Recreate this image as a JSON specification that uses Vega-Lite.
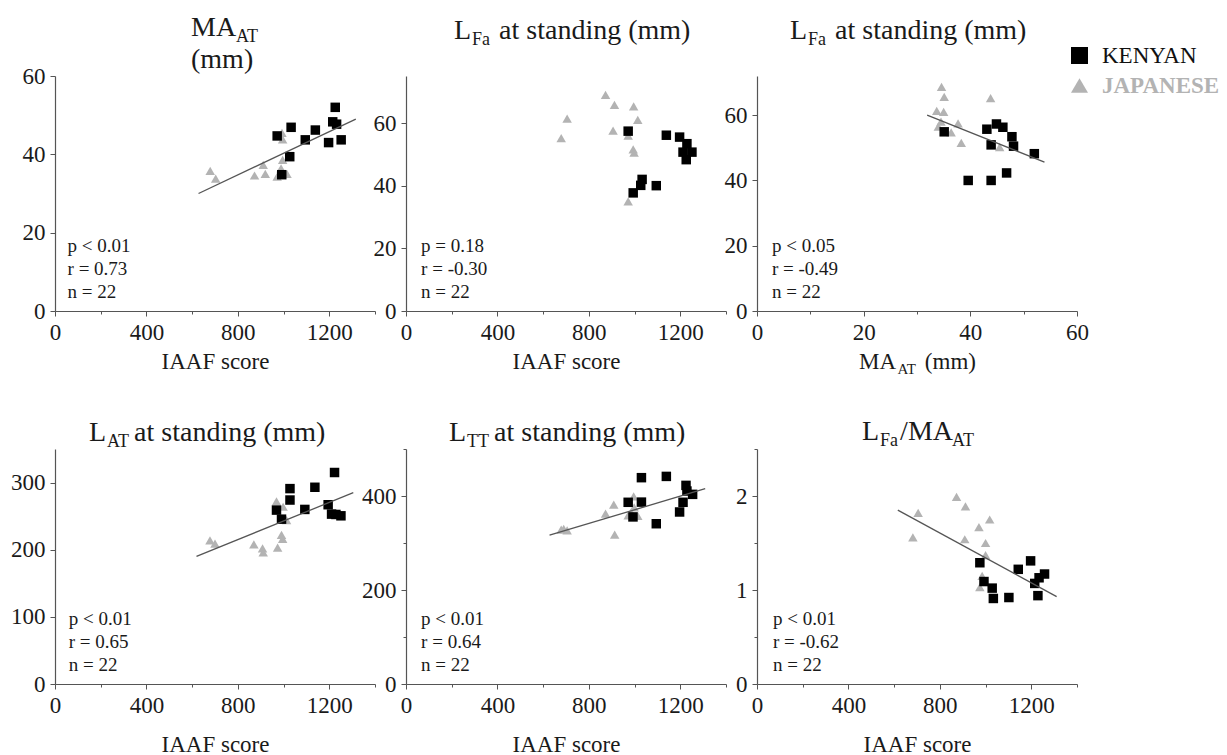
{
  "$schema": "https://vega.github.io/schema/vega-lite/v6.json",
  "background": "white",
  "padding": {"left": 10, "top": 14, "right": 0, "bottom": 0},
  "datasets": {
    "pts": [
      {"panel": 1, "group": "JAPANESE", "x": 679, "y": 35.8},
      {"panel": 1, "group": "JAPANESE", "x": 703, "y": 33.8},
      {"panel": 1, "group": "JAPANESE", "x": 873, "y": 34.6},
      {"panel": 1, "group": "JAPANESE", "x": 911, "y": 37.3},
      {"panel": 1, "group": "JAPANESE", "x": 920, "y": 35.0},
      {"panel": 1, "group": "JAPANESE", "x": 993, "y": 45.5},
      {"panel": 1, "group": "JAPANESE", "x": 996, "y": 43.8},
      {"panel": 1, "group": "JAPANESE", "x": 996, "y": 38.6},
      {"panel": 1, "group": "JAPANESE", "x": 989, "y": 36.4},
      {"panel": 1, "group": "JAPANESE", "x": 972, "y": 34.3},
      {"panel": 1, "group": "JAPANESE", "x": 1015, "y": 35.0},
      {"panel": 1, "group": "KENYAN", "x": 972, "y": 44.7},
      {"panel": 1, "group": "KENYAN", "x": 1033, "y": 46.9},
      {"panel": 1, "group": "KENYAN", "x": 992, "y": 34.8},
      {"panel": 1, "group": "KENYAN", "x": 1027, "y": 39.4},
      {"panel": 1, "group": "KENYAN", "x": 1095, "y": 43.7},
      {"panel": 1, "group": "KENYAN", "x": 1139, "y": 46.2},
      {"panel": 1, "group": "KENYAN", "x": 1197, "y": 43.0},
      {"panel": 1, "group": "KENYAN", "x": 1226, "y": 52.0},
      {"panel": 1, "group": "KENYAN", "x": 1215, "y": 48.3},
      {"panel": 1, "group": "KENYAN", "x": 1232, "y": 47.7},
      {"panel": 1, "group": "KENYAN", "x": 1252, "y": 43.7},

      {"panel": 2, "group": "JAPANESE", "x": 679, "y": 55.2},
      {"panel": 2, "group": "JAPANESE", "x": 705, "y": 61.4},
      {"panel": 2, "group": "JAPANESE", "x": 873, "y": 69.0},
      {"panel": 2, "group": "JAPANESE", "x": 912, "y": 65.8},
      {"panel": 2, "group": "JAPANESE", "x": 906, "y": 57.6},
      {"panel": 2, "group": "JAPANESE", "x": 996, "y": 65.3},
      {"panel": 2, "group": "JAPANESE", "x": 1014, "y": 61.0},
      {"panel": 2, "group": "JAPANESE", "x": 994, "y": 51.6},
      {"panel": 2, "group": "JAPANESE", "x": 998, "y": 50.5},
      {"panel": 2, "group": "JAPANESE", "x": 972, "y": 35.0},
      {"panel": 2, "group": "JAPANESE", "x": 972, "y": 56.0},
      {"panel": 2, "group": "KENYAN", "x": 972, "y": 57.4},
      {"panel": 2, "group": "KENYAN", "x": 1139, "y": 56.1},
      {"panel": 2, "group": "KENYAN", "x": 1197, "y": 55.5},
      {"panel": 2, "group": "KENYAN", "x": 1229, "y": 53.4},
      {"panel": 2, "group": "KENYAN", "x": 1212, "y": 50.7},
      {"panel": 2, "group": "KENYAN", "x": 1251, "y": 50.7},
      {"panel": 2, "group": "KENYAN", "x": 1226, "y": 48.3},
      {"panel": 2, "group": "KENYAN", "x": 994, "y": 37.7},
      {"panel": 2, "group": "KENYAN", "x": 1033, "y": 42.0},
      {"panel": 2, "group": "KENYAN", "x": 1027, "y": 40.1},
      {"panel": 2, "group": "KENYAN", "x": 1095, "y": 40.0},

      {"panel": 3, "group": "JAPANESE", "x": 34.6, "y": 68.7},
      {"panel": 3, "group": "JAPANESE", "x": 35.1, "y": 65.6},
      {"panel": 3, "group": "JAPANESE", "x": 33.7, "y": 61.3},
      {"panel": 3, "group": "JAPANESE", "x": 35.0, "y": 61.0},
      {"panel": 3, "group": "JAPANESE", "x": 34.0, "y": 56.5},
      {"panel": 3, "group": "JAPANESE", "x": 34.5, "y": 58.0},
      {"panel": 3, "group": "JAPANESE", "x": 36.4, "y": 54.7},
      {"panel": 3, "group": "JAPANESE", "x": 37.7, "y": 57.5},
      {"panel": 3, "group": "JAPANESE", "x": 38.3, "y": 51.5},
      {"panel": 3, "group": "JAPANESE", "x": 43.8, "y": 65.2},
      {"panel": 3, "group": "JAPANESE", "x": 45.5, "y": 50.2},
      {"panel": 3, "group": "KENYAN", "x": 35.1, "y": 54.9},
      {"panel": 3, "group": "KENYAN", "x": 43.1, "y": 55.7},
      {"panel": 3, "group": "KENYAN", "x": 44.9, "y": 57.3},
      {"panel": 3, "group": "KENYAN", "x": 46.1, "y": 56.3},
      {"panel": 3, "group": "KENYAN", "x": 47.8, "y": 53.4},
      {"panel": 3, "group": "KENYAN", "x": 48.1, "y": 50.5},
      {"panel": 3, "group": "KENYAN", "x": 43.9, "y": 50.9},
      {"panel": 3, "group": "KENYAN", "x": 52.0, "y": 48.2},
      {"panel": 3, "group": "KENYAN", "x": 39.6, "y": 40.0},
      {"panel": 3, "group": "KENYAN", "x": 43.9, "y": 40.0},
      {"panel": 3, "group": "KENYAN", "x": 46.8, "y": 42.3},

      {"panel": 4, "group": "JAPANESE", "x": 678, "y": 214},
      {"panel": 4, "group": "JAPANESE", "x": 700, "y": 209},
      {"panel": 4, "group": "JAPANESE", "x": 870, "y": 208},
      {"panel": 4, "group": "JAPANESE", "x": 908, "y": 202},
      {"panel": 4, "group": "JAPANESE", "x": 911, "y": 196},
      {"panel": 4, "group": "JAPANESE", "x": 969, "y": 272},
      {"panel": 4, "group": "JAPANESE", "x": 974, "y": 203},
      {"panel": 4, "group": "JAPANESE", "x": 991, "y": 222},
      {"panel": 4, "group": "JAPANESE", "x": 996, "y": 216},
      {"panel": 4, "group": "JAPANESE", "x": 998, "y": 264},
      {"panel": 4, "group": "JAPANESE", "x": 1013, "y": 244},
      {"panel": 4, "group": "KENYAN", "x": 969, "y": 259},
      {"panel": 4, "group": "KENYAN", "x": 991, "y": 245.5},
      {"panel": 4, "group": "KENYAN", "x": 1028, "y": 291},
      {"panel": 4, "group": "KENYAN", "x": 1028, "y": 274},
      {"panel": 4, "group": "KENYAN", "x": 1093, "y": 260},
      {"panel": 4, "group": "KENYAN", "x": 1137, "y": 293},
      {"panel": 4, "group": "KENYAN", "x": 1195, "y": 267},
      {"panel": 4, "group": "KENYAN", "x": 1223, "y": 315},
      {"panel": 4, "group": "KENYAN", "x": 1210, "y": 253},
      {"panel": 4, "group": "KENYAN", "x": 1229, "y": 252.5},
      {"panel": 4, "group": "KENYAN", "x": 1251, "y": 250.5},

      {"panel": 5, "group": "JAPANESE", "x": 679, "y": 328.6},
      {"panel": 5, "group": "JAPANESE", "x": 690, "y": 330},
      {"panel": 5, "group": "JAPANESE", "x": 705, "y": 327},
      {"panel": 5, "group": "JAPANESE", "x": 873, "y": 362.5},
      {"panel": 5, "group": "JAPANESE", "x": 909, "y": 381.6},
      {"panel": 5, "group": "JAPANESE", "x": 913, "y": 318},
      {"panel": 5, "group": "JAPANESE", "x": 972, "y": 359},
      {"panel": 5, "group": "JAPANESE", "x": 985, "y": 365},
      {"panel": 5, "group": "JAPANESE", "x": 996, "y": 399},
      {"panel": 5, "group": "JAPANESE", "x": 998, "y": 376},
      {"panel": 5, "group": "JAPANESE", "x": 1014, "y": 357.6},
      {"panel": 5, "group": "KENYAN", "x": 972, "y": 386.6},
      {"panel": 5, "group": "KENYAN", "x": 1030, "y": 439},
      {"panel": 5, "group": "KENYAN", "x": 1030, "y": 387},
      {"panel": 5, "group": "KENYAN", "x": 993, "y": 355.5},
      {"panel": 5, "group": "KENYAN", "x": 1095, "y": 341},
      {"panel": 5, "group": "KENYAN", "x": 1139, "y": 441.7},
      {"panel": 5, "group": "KENYAN", "x": 1197, "y": 366},
      {"panel": 5, "group": "KENYAN", "x": 1212, "y": 386.6},
      {"panel": 5, "group": "KENYAN", "x": 1225, "y": 422.6},
      {"panel": 5, "group": "KENYAN", "x": 1229, "y": 410.6},
      {"panel": 5, "group": "KENYAN", "x": 1254, "y": 403.5},

      {"panel": 6, "group": "JAPANESE", "x": 682, "y": 1.56},
      {"panel": 6, "group": "JAPANESE", "x": 705, "y": 1.82},
      {"panel": 6, "group": "JAPANESE", "x": 873, "y": 1.99},
      {"panel": 6, "group": "JAPANESE", "x": 912, "y": 1.89},
      {"panel": 6, "group": "JAPANESE", "x": 909, "y": 1.54},
      {"panel": 6, "group": "JAPANESE", "x": 971, "y": 1.67},
      {"panel": 6, "group": "JAPANESE", "x": 1018, "y": 1.75},
      {"panel": 6, "group": "JAPANESE", "x": 1000, "y": 1.50},
      {"panel": 6, "group": "JAPANESE", "x": 1000, "y": 1.37},
      {"panel": 6, "group": "JAPANESE", "x": 985, "y": 1.15},
      {"panel": 6, "group": "JAPANESE", "x": 975, "y": 1.03},
      {"panel": 6, "group": "KENYAN", "x": 975, "y": 1.29},
      {"panel": 6, "group": "KENYAN", "x": 993, "y": 1.09},
      {"panel": 6, "group": "KENYAN", "x": 1029, "y": 1.02},
      {"panel": 6, "group": "KENYAN", "x": 1034, "y": 0.91},
      {"panel": 6, "group": "KENYAN", "x": 1102, "y": 0.92},
      {"panel": 6, "group": "KENYAN", "x": 1143, "y": 1.22},
      {"panel": 6, "group": "KENYAN", "x": 1197, "y": 1.31},
      {"panel": 6, "group": "KENYAN", "x": 1215, "y": 1.07},
      {"panel": 6, "group": "KENYAN", "x": 1234, "y": 1.13},
      {"panel": 6, "group": "KENYAN", "x": 1258, "y": 1.17},
      {"panel": 6, "group": "KENYAN", "x": 1229, "y": 0.94}
    ],
    "fit": [
      {"panel": 1, "x": 628, "y": 30.0}, {"panel": 1, "x": 1316, "y": 49.0},
      {"panel": 3, "x": 31.9, "y": 60.0}, {"panel": 3, "x": 53.9, "y": 45.6},
      {"panel": 4, "x": 619, "y": 190}, {"panel": 4, "x": 1305, "y": 285},
      {"panel": 5, "x": 628, "y": 316.6}, {"panel": 5, "x": 1309, "y": 415.5},
      {"panel": 6, "x": 616, "y": 1.85}, {"panel": 6, "x": 1311, "y": 0.93}
    ],
    "stats": [
      {"panel": 1, "label": "p < 0.01\nr = 0.73\nn = 22"},
      {"panel": 2, "label": "p = 0.18\nr = -0.30\nn = 22"},
      {"panel": 3, "label": "p < 0.05\nr = -0.49\nn = 22"},
      {"panel": 4, "label": "p < 0.01\nr = 0.65\nn = 22"},
      {"panel": 5, "label": "p < 0.01\nr = 0.64\nn = 22"},
      {"panel": 6, "label": "p < 0.01\nr = -0.62\nn = 22"}
    ]
  },
  "columns": 3,
  "bounds": "flush",
  "spacing": {"row": 138, "column": 31},
  "concat": [
    {
      "width": 320, "height": 235,
      "title": {"text": ["MA", "(mm)"], "subtitle": "\u200b\u00a0\u00a0\u00a0\u00a0\u00a0\u00a0\u00a0\u00a0\u00a0\u00a0AT", "fontSize": 28, "lineHeight": 32, "dx": 136, "offset": -9, "subtitlePadding": -46},
      "layer": [
        {"data": {"name": "pts"}, "transform": [{"filter": "datum.panel === 1"}],
         "mark": {"type": "point", "filled": true, "opacity": 1, "size": 90},
         "encoding": {
           "x": {"field": "x", "type": "quantitative", "scale": {"domain": [0, 1400], "nice": false}, "axis": {"title": "IAAF score", "titlePadding": 6, "values": [0, 200, 400, 600, 800, 1000, 1200, 1400], "labelExpr": "datum.value % 400 === 0 ? datum.label : ''", "tickSize": {"condition": {"test": "datum.value % 400 === 0", "value": 5}, "value": 3}}},
           "y": {"field": "y", "type": "quantitative", "scale": {"domain": [0, 60], "nice": false}, "axis": {"title": null, "values": [0, 10, 20, 30, 40, 50, 60], "labelExpr": "datum.value % 20 === 0 ? datum.label : ''", "tickSize": {"condition": {"test": "datum.value % 20 === 0", "value": 5}, "value": 3}}},
           "color": {"field": "group", "type": "nominal", "scale": {"domain": ["KENYAN", "JAPANESE"], "range": ["#000000", "#b3b3b3"]}, "legend": {"title": null, "orient": "none", "legendX": 1013, "legendY": -32, "symbolSize": 290, "labelFontWeight": {"expr": "datum.value === 'JAPANESE' ? 'bold' : 'normal'"}, "labelColor": {"expr": "datum.value === 'JAPANESE' ? '#b3b3b3' : '#111111'"}}},
           "shape": {"field": "group", "type": "nominal", "scale": {"domain": ["KENYAN", "JAPANESE"], "range": ["square", "triangle-up"]}, "legend": {"title": null, "orient": "none", "legendX": 1013, "legendY": -32, "symbolSize": 290, "labelFontWeight": {"expr": "datum.value === 'JAPANESE' ? 'bold' : 'normal'"}, "labelColor": {"expr": "datum.value === 'JAPANESE' ? '#b3b3b3' : '#111111'"}}}
         }},
        {"data": {"name": "fit"}, "transform": [{"filter": "datum.panel === 1"}],
         "mark": {"type": "line", "color": "#555555", "strokeWidth": 1.3},
         "encoding": {"x": {"field": "x", "type": "quantitative"}, "y": {"field": "y", "type": "quantitative"}}},
        {"data": {"name": "stats"}, "transform": [{"filter": "datum.panel === 1"}],
         "mark": {"type": "text", "align": "left", "baseline": "alphabetic", "lineBreak": "\n", "lineHeight": 23, "fontSize": 19, "font": "Liberation Serif", "color": "#1a1a1a"},
         "encoding": {"x": {"datum": 55, "type": "quantitative"}, "y": {"datum": 15.1, "type": "quantitative"}, "text": {"field": "label", "type": "nominal"}}}
      ]
    },
    {
      "width": 320, "height": 235,
      "title": {"text": "L\u00a0\u00a0\u00a0\u00a0at standing (mm)", "subtitle": "\u200b\u00a0\u00a0\u00a0\u00a0Fa", "dx": 48, "offset": 27},
      "layer": [
        {"data": {"name": "pts"}, "transform": [{"filter": "datum.panel === 2"}],
         "mark": {"type": "point", "filled": true, "opacity": 1, "size": 90},
         "encoding": {
           "x": {"field": "x", "type": "quantitative", "scale": {"domain": [0, 1400], "nice": false}, "axis": {"title": "IAAF score", "titlePadding": 6, "values": [0, 200, 400, 600, 800, 1000, 1200, 1400], "labelExpr": "datum.value % 400 === 0 ? datum.label : ''", "tickSize": {"condition": {"test": "datum.value % 400 === 0", "value": 5}, "value": 3}}},
           "y": {"field": "y", "type": "quantitative", "scale": {"domain": [0, 75], "nice": false}, "axis": {"title": null, "values": [0, 10, 20, 30, 40, 50, 60, 70], "labelExpr": "datum.value % 20 === 0 ? datum.label : ''", "tickSize": {"condition": {"test": "datum.value % 20 === 0", "value": 5}, "value": 3}}},
           "color": {"field": "group", "type": "nominal", "scale": {"domain": ["KENYAN", "JAPANESE"], "range": ["#000000", "#b3b3b3"]}, "legend": {"title": null, "orient": "none", "legendX": 1013, "legendY": -32, "symbolSize": 290, "labelFontWeight": {"expr": "datum.value === 'JAPANESE' ? 'bold' : 'normal'"}, "labelColor": {"expr": "datum.value === 'JAPANESE' ? '#b3b3b3' : '#111111'"}}},
           "shape": {"field": "group", "type": "nominal", "scale": {"domain": ["KENYAN", "JAPANESE"], "range": ["square", "triangle-up"]}, "legend": {"title": null, "orient": "none", "legendX": 1013, "legendY": -32, "symbolSize": 290, "labelFontWeight": {"expr": "datum.value === 'JAPANESE' ? 'bold' : 'normal'"}, "labelColor": {"expr": "datum.value === 'JAPANESE' ? '#b3b3b3' : '#111111'"}}}
         }},
        {"data": {"name": "stats"}, "transform": [{"filter": "datum.panel === 2"}],
         "mark": {"type": "text", "align": "left", "baseline": "alphabetic", "lineBreak": "\n", "lineHeight": 23, "fontSize": 19, "font": "Liberation Serif", "color": "#1a1a1a"},
         "encoding": {"x": {"datum": 66, "type": "quantitative"}, "y": {"datum": 18.8, "type": "quantitative"}, "text": {"field": "label", "type": "nominal"}}}
      ]
    },
    {
      "width": 320, "height": 235,
      "title": {"text": "L\u00a0\u00a0\u00a0\u00a0at standing (mm)", "subtitle": "\u200b\u00a0\u00a0\u00a0\u00a0Fa", "dx": 33, "offset": 27},
      "layer": [
        {"data": {"name": "pts"}, "transform": [{"filter": "datum.panel === 3"}],
         "mark": {"type": "point", "filled": true, "opacity": 1, "size": 90},
         "encoding": {
           "x": {"field": "x", "type": "quantitative", "scale": {"domain": [0, 60], "nice": false}, "axis": {"title": "MA\u00a0\u00a0\u00a0\u00a0\u00a0(mm)", "titlePadding": 6, "values": [0, 10, 20, 30, 40, 50, 60], "labelExpr": "datum.value % 20 === 0 ? datum.label : ''", "tickSize": {"condition": {"test": "datum.value % 20 === 0", "value": 5}, "value": 3}}},
           "y": {"field": "y", "type": "quantitative", "scale": {"domain": [0, 72], "nice": false}, "axis": {"title": "AT", "titleFontSize": 15, "titleAngle": 0, "titleAlign": "left", "titleBaseline": "alphabetic", "titleX": 140, "titleY": 297, "values": [0, 10, 20, 30, 40, 50, 60, 70], "labelExpr": "datum.value % 20 === 0 ? datum.label : ''", "tickSize": {"condition": {"test": "datum.value % 20 === 0", "value": 5}, "value": 3}}},
           "color": {"field": "group", "type": "nominal", "scale": {"domain": ["KENYAN", "JAPANESE"], "range": ["#000000", "#b3b3b3"]}, "legend": {"title": null, "orient": "none", "legendX": 1013, "legendY": -32, "symbolSize": 290, "labelFontWeight": {"expr": "datum.value === 'JAPANESE' ? 'bold' : 'normal'"}, "labelColor": {"expr": "datum.value === 'JAPANESE' ? '#b3b3b3' : '#111111'"}}},
           "shape": {"field": "group", "type": "nominal", "scale": {"domain": ["KENYAN", "JAPANESE"], "range": ["square", "triangle-up"]}, "legend": {"title": null, "orient": "none", "legendX": 1013, "legendY": -32, "symbolSize": 290, "labelFontWeight": {"expr": "datum.value === 'JAPANESE' ? 'bold' : 'normal'"}, "labelColor": {"expr": "datum.value === 'JAPANESE' ? '#b3b3b3' : '#111111'"}}}
         }},
        {"data": {"name": "fit"}, "transform": [{"filter": "datum.panel === 3"}],
         "mark": {"type": "line", "color": "#555555", "strokeWidth": 1.3},
         "encoding": {"x": {"field": "x", "type": "quantitative"}, "y": {"field": "y", "type": "quantitative"}}},
        {"data": {"name": "stats"}, "transform": [{"filter": "datum.panel === 3"}],
         "mark": {"type": "text", "align": "left", "baseline": "alphabetic", "lineBreak": "\n", "lineHeight": 23, "fontSize": 19, "font": "Liberation Serif", "color": "#1a1a1a"},
         "encoding": {"x": {"datum": 2.8, "type": "quantitative"}, "y": {"datum": 18.1, "type": "quantitative"}, "text": {"field": "label", "type": "nominal"}}}
      ]
    },
    {
      "width": 320, "height": 235,
      "title": {"text": "L\u00a0\u00a0\u00a0\u00a0at standing (mm)", "subtitle": "\u200b\u00a0\u00a0\u00a0\u00a0AT", "dx": 34, "offset": -2},
      "layer": [
        {"data": {"name": "pts"}, "transform": [{"filter": "datum.panel === 4"}],
         "mark": {"type": "point", "filled": true, "opacity": 1, "size": 90},
         "encoding": {
           "x": {"field": "x", "type": "quantitative", "scale": {"domain": [0, 1400], "nice": false}, "axis": {"title": "IAAF score", "titlePadding": 16, "values": [0, 200, 400, 600, 800, 1000, 1200, 1400], "labelExpr": "datum.value % 400 === 0 ? datum.label : ''", "tickSize": {"condition": {"test": "datum.value % 400 === 0", "value": 5}, "value": 3}}},
           "y": {"field": "y", "type": "quantitative", "scale": {"domain": [0, 350], "nice": false}, "axis": {"title": null, "values": [0, 50, 100, 150, 200, 250, 300, 350], "labelExpr": "datum.value % 100 === 0 ? datum.label : ''", "tickSize": {"condition": {"test": "datum.value % 100 === 0", "value": 5}, "value": 3}}},
           "color": {"field": "group", "type": "nominal", "scale": {"domain": ["KENYAN", "JAPANESE"], "range": ["#000000", "#b3b3b3"]}, "legend": {"title": null, "orient": "none", "legendX": 1013, "legendY": -32, "symbolSize": 290, "labelFontWeight": {"expr": "datum.value === 'JAPANESE' ? 'bold' : 'normal'"}, "labelColor": {"expr": "datum.value === 'JAPANESE' ? '#b3b3b3' : '#111111'"}}},
           "shape": {"field": "group", "type": "nominal", "scale": {"domain": ["KENYAN", "JAPANESE"], "range": ["square", "triangle-up"]}, "legend": {"title": null, "orient": "none", "legendX": 1013, "legendY": -32, "symbolSize": 290, "labelFontWeight": {"expr": "datum.value === 'JAPANESE' ? 'bold' : 'normal'"}, "labelColor": {"expr": "datum.value === 'JAPANESE' ? '#b3b3b3' : '#111111'"}}}
         }},
        {"data": {"name": "fit"}, "transform": [{"filter": "datum.panel === 4"}],
         "mark": {"type": "line", "color": "#555555", "strokeWidth": 1.3},
         "encoding": {"x": {"field": "x", "type": "quantitative"}, "y": {"field": "y", "type": "quantitative"}}},
        {"data": {"name": "stats"}, "transform": [{"filter": "datum.panel === 4"}],
         "mark": {"type": "text", "align": "left", "baseline": "alphabetic", "lineBreak": "\n", "lineHeight": 23, "fontSize": 19, "font": "Liberation Serif", "color": "#1a1a1a"},
         "encoding": {"x": {"datum": 60, "type": "quantitative"}, "y": {"datum": 88, "type": "quantitative"}, "text": {"field": "label", "type": "nominal"}}}
      ]
    },
    {
      "width": 320, "height": 235,
      "title": {"text": "L\u00a0\u00a0\u00a0\u00a0at standing (mm)", "subtitle": "\u200b\u00a0\u00a0\u00a0\u00a0TT", "dx": 43, "offset": -13},
      "layer": [
        {"data": {"name": "pts"}, "transform": [{"filter": "datum.panel === 5"}],
         "mark": {"type": "point", "filled": true, "opacity": 1, "size": 90},
         "encoding": {
           "x": {"field": "x", "type": "quantitative", "scale": {"domain": [0, 1400], "nice": false}, "axis": {"title": "IAAF score", "titlePadding": 16, "values": [0, 200, 400, 600, 800, 1000, 1200, 1400], "labelExpr": "datum.value % 400 === 0 ? datum.label : ''", "tickSize": {"condition": {"test": "datum.value % 400 === 0", "value": 5}, "value": 3}}},
           "y": {"field": "y", "type": "quantitative", "scale": {"domain": [0, 500], "nice": false}, "axis": {"title": null, "values": [0, 100, 200, 300, 400, 500], "labelExpr": "datum.value % 200 === 0 ? datum.label : ''", "tickSize": {"condition": {"test": "datum.value % 200 === 0", "value": 5}, "value": 3}}},
           "color": {"field": "group", "type": "nominal", "scale": {"domain": ["KENYAN", "JAPANESE"], "range": ["#000000", "#b3b3b3"]}, "legend": {"title": null, "orient": "none", "legendX": 1013, "legendY": -32, "symbolSize": 290, "labelFontWeight": {"expr": "datum.value === 'JAPANESE' ? 'bold' : 'normal'"}, "labelColor": {"expr": "datum.value === 'JAPANESE' ? '#b3b3b3' : '#111111'"}}},
           "shape": {"field": "group", "type": "nominal", "scale": {"domain": ["KENYAN", "JAPANESE"], "range": ["square", "triangle-up"]}, "legend": {"title": null, "orient": "none", "legendX": 1013, "legendY": -32, "symbolSize": 290, "labelFontWeight": {"expr": "datum.value === 'JAPANESE' ? 'bold' : 'normal'"}, "labelColor": {"expr": "datum.value === 'JAPANESE' ? '#b3b3b3' : '#111111'"}}}
         }},
        {"data": {"name": "fit"}, "transform": [{"filter": "datum.panel === 5"}],
         "mark": {"type": "line", "color": "#555555", "strokeWidth": 1.3},
         "encoding": {"x": {"field": "x", "type": "quantitative"}, "y": {"field": "y", "type": "quantitative"}}},
        {"data": {"name": "stats"}, "transform": [{"filter": "datum.panel === 5"}],
         "mark": {"type": "text", "align": "left", "baseline": "alphabetic", "lineBreak": "\n", "lineHeight": 23, "fontSize": 19, "font": "Liberation Serif", "color": "#1a1a1a"},
         "encoding": {"x": {"datum": 66, "type": "quantitative"}, "y": {"datum": 125, "type": "quantitative"}, "text": {"field": "label", "type": "nominal"}}}
      ]
    },
    {
      "width": 320, "height": 235,
      "title": {"text": "L\u00a0\u00a0\u00a0/MA", "subtitle": "\u200b\u00a0\u00a0\u00a0\u00a0Fa\u00a0\u00a0\u00a0\u00a0\u00a0\u00a0\u00a0\u00a0\u00a0\u00a0\u00a0\u00a0AT", "dx": 105, "offset": -12},
      "layer": [
        {"data": {"name": "pts"}, "transform": [{"filter": "datum.panel === 6"}],
         "mark": {"type": "point", "filled": true, "opacity": 1, "size": 90},
         "encoding": {
           "x": {"field": "x", "type": "quantitative", "scale": {"domain": [0, 1400], "nice": false}, "axis": {"title": "IAAF score", "titlePadding": 16, "values": [0, 200, 400, 600, 800, 1000, 1200, 1400], "labelExpr": "datum.value % 400 === 0 ? datum.label : ''", "tickSize": {"condition": {"test": "datum.value % 400 === 0", "value": 5}, "value": 3}}},
           "y": {"field": "y", "type": "quantitative", "scale": {"domain": [0, 2.5], "nice": false}, "axis": {"title": null, "format": "~g", "values": [0, 0.5, 1, 1.5, 2, 2.5], "labelExpr": "datum.value % 1 === 0 ? datum.label : ''", "tickSize": {"condition": {"test": "datum.value % 1 === 0", "value": 5}, "value": 3}}},
           "color": {"field": "group", "type": "nominal", "scale": {"domain": ["KENYAN", "JAPANESE"], "range": ["#000000", "#b3b3b3"]}, "legend": {"title": null, "orient": "none", "legendX": 1013, "legendY": -32, "symbolSize": 290, "labelFontWeight": {"expr": "datum.value === 'JAPANESE' ? 'bold' : 'normal'"}, "labelColor": {"expr": "datum.value === 'JAPANESE' ? '#b3b3b3' : '#111111'"}}},
           "shape": {"field": "group", "type": "nominal", "scale": {"domain": ["KENYAN", "JAPANESE"], "range": ["square", "triangle-up"]}, "legend": {"title": null, "orient": "none", "legendX": 1013, "legendY": -32, "symbolSize": 290, "labelFontWeight": {"expr": "datum.value === 'JAPANESE' ? 'bold' : 'normal'"}, "labelColor": {"expr": "datum.value === 'JAPANESE' ? '#b3b3b3' : '#111111'"}}}
         }},
        {"data": {"name": "fit"}, "transform": [{"filter": "datum.panel === 6"}],
         "mark": {"type": "line", "color": "#555555", "strokeWidth": 1.3},
         "encoding": {"x": {"field": "x", "type": "quantitative"}, "y": {"field": "y", "type": "quantitative"}}},
        {"data": {"name": "stats"}, "transform": [{"filter": "datum.panel === 6"}],
         "mark": {"type": "text", "align": "left", "baseline": "alphabetic", "lineBreak": "\n", "lineHeight": 23, "fontSize": 19, "font": "Liberation Serif", "color": "#1a1a1a"},
         "encoding": {"x": {"datum": 70, "type": "quantitative"}, "y": {"datum": 0.63, "type": "quantitative"}, "text": {"field": "label", "type": "nominal"}}}
      ]
    }
  ],
  "config": {
    "font": "Liberation Serif",
    "view": {"stroke": null},
    "axis": {"grid": false, "domainColor": "#555555", "domainWidth": 1.2, "tickColor": "#555555", "labelColor": "#1a1a1a", "labelFont": "Liberation Serif", "labelFontSize": 23, "labelPadding": 5, "labelFlush": false, "labelOverlap": false, "titleFont": "Liberation Serif", "titleFontSize": 23, "titleFontWeight": "normal", "titleColor": "#1a1a1a", "format": "d"},
    "legend": {"symbolStrokeWidth": 0, "labelFont": "Liberation Serif", "labelFontSize": 23, "rowPadding": 6, "labelOffset": 11},
    "title": {"font": "Liberation Serif", "fontWeight": "normal", "color": "#1a1a1a", "anchor": "start", "frame": "group", "fontSize": 28, "subtitleFont": "Liberation Serif", "subtitleColor": "#1a1a1a", "subtitleFontSize": 18, "subtitlePadding": -14}
  }
}
